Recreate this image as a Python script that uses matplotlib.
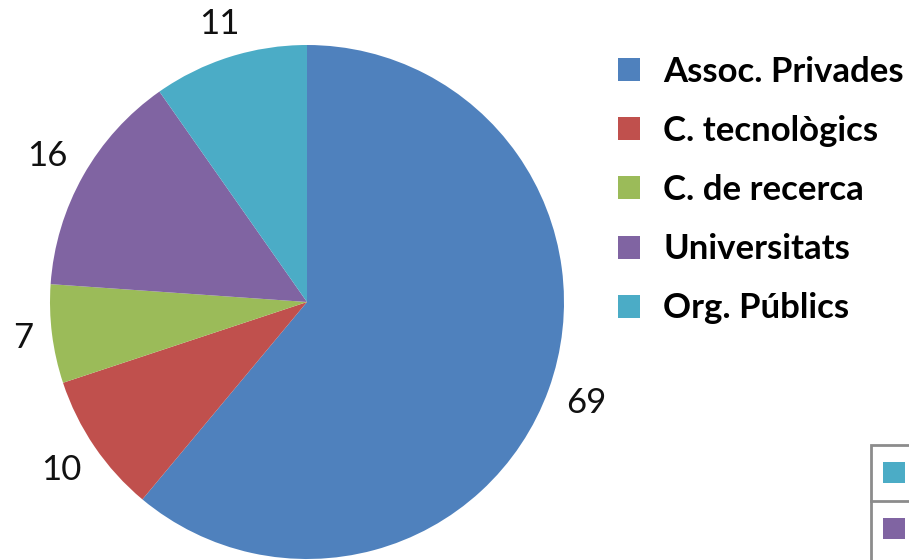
import matplotlib
matplotlib.use('Agg')
import numpy as np
import matplotlib.pyplot as plt
from matplotlib.patches import Rectangle, Patch
from matplotlib.lines import Line2D

categories = ['Assoc. Privades', 'C. tecnològics', 'C. de recerca', 'Universitats', 'Org. Públics']
values = [69, 10, 7, 16, 11]
colors = ['#4F81BD', '#C0504D', '#9BBB59', '#8064A2', '#4BACC6']

plt.rcParams['font.family'] = ['Lato', 'DejaVu Sans']

W, H = 909, 560
fig = plt.figure(figsize=(W / 100, H / 100), dpi=100)
fig.patch.set_facecolor('white')

# pie area in pixels: centre (307, 302), radius 257
cx, cy, r = 307, 302, 257
ax = fig.add_axes([(cx - r) / W, (H - cy - r) / H, 2 * r / W, 2 * r / H])
wedges, texts = ax.pie(values, labels=[str(v) for v in values], colors=colors,
                       startangle=90, counterclock=False, labeldistance=1.15,
                       wedgeprops=dict(linewidth=0),
                       textprops=dict(fontsize=25, color='#111111'))
ax.set_xlim(-1, 1); ax.set_ylim(-1, 1)
ax.set_aspect('equal')

# put each label a fixed gap outside the rim, like Excel's outside-end labels
fig.canvas.draw()
gap = 17
for w, t in zip(wedges, texts):
    t.set_ha('center'); t.set_va('center'); t.set_clip_on(False)
    a = np.deg2rad((w.theta1 + w.theta2) / 2)
    bb = t.get_window_extent()
    proj = abs(np.cos(a)) * bb.width / 2 + abs(np.sin(a)) * 25 * 0.72 * 1.39 / 2
    d = 1 + (gap + proj) / r
    t.set_position((d * np.cos(a), d * np.sin(a)))

handles = [Patch(facecolor=c, edgecolor='none') for c in colors]
fig.legend(handles, categories, loc='upper left',
           bbox_to_anchor=(618 / W, 1 - 56 / H), frameon=False,
           prop=dict(size=25, weight='bold'), handlelength=0.64, handleheight=0.64,
           handletextpad=0.66, labelspacing=0.78, borderaxespad=0, borderpad=0)

# second legend box, mostly outside the visible area
box_l, box_t, sep = 871, 445, 501
fig.add_artist(Rectangle((box_l / W, -0.1), 1, (H - box_t) / H + 0.1,
                         transform=fig.transFigure, facecolor='white',
                         edgecolor='#8c8c8c', linewidth=2))
fig.add_artist(Line2D([box_l / W, 1.0], [1 - sep / H] * 2, transform=fig.transFigure,
                      color='#8c8c8c', linewidth=2))
for c, top in [(colors[4], 462), (colors[3], 518)]:
    fig.add_artist(Rectangle((883 / W, 1 - (top + 21) / H), 22 / W, 21 / H,
                             transform=fig.transFigure, facecolor=c, edgecolor='none'))

fig.savefig('out.png', dpi=100)
